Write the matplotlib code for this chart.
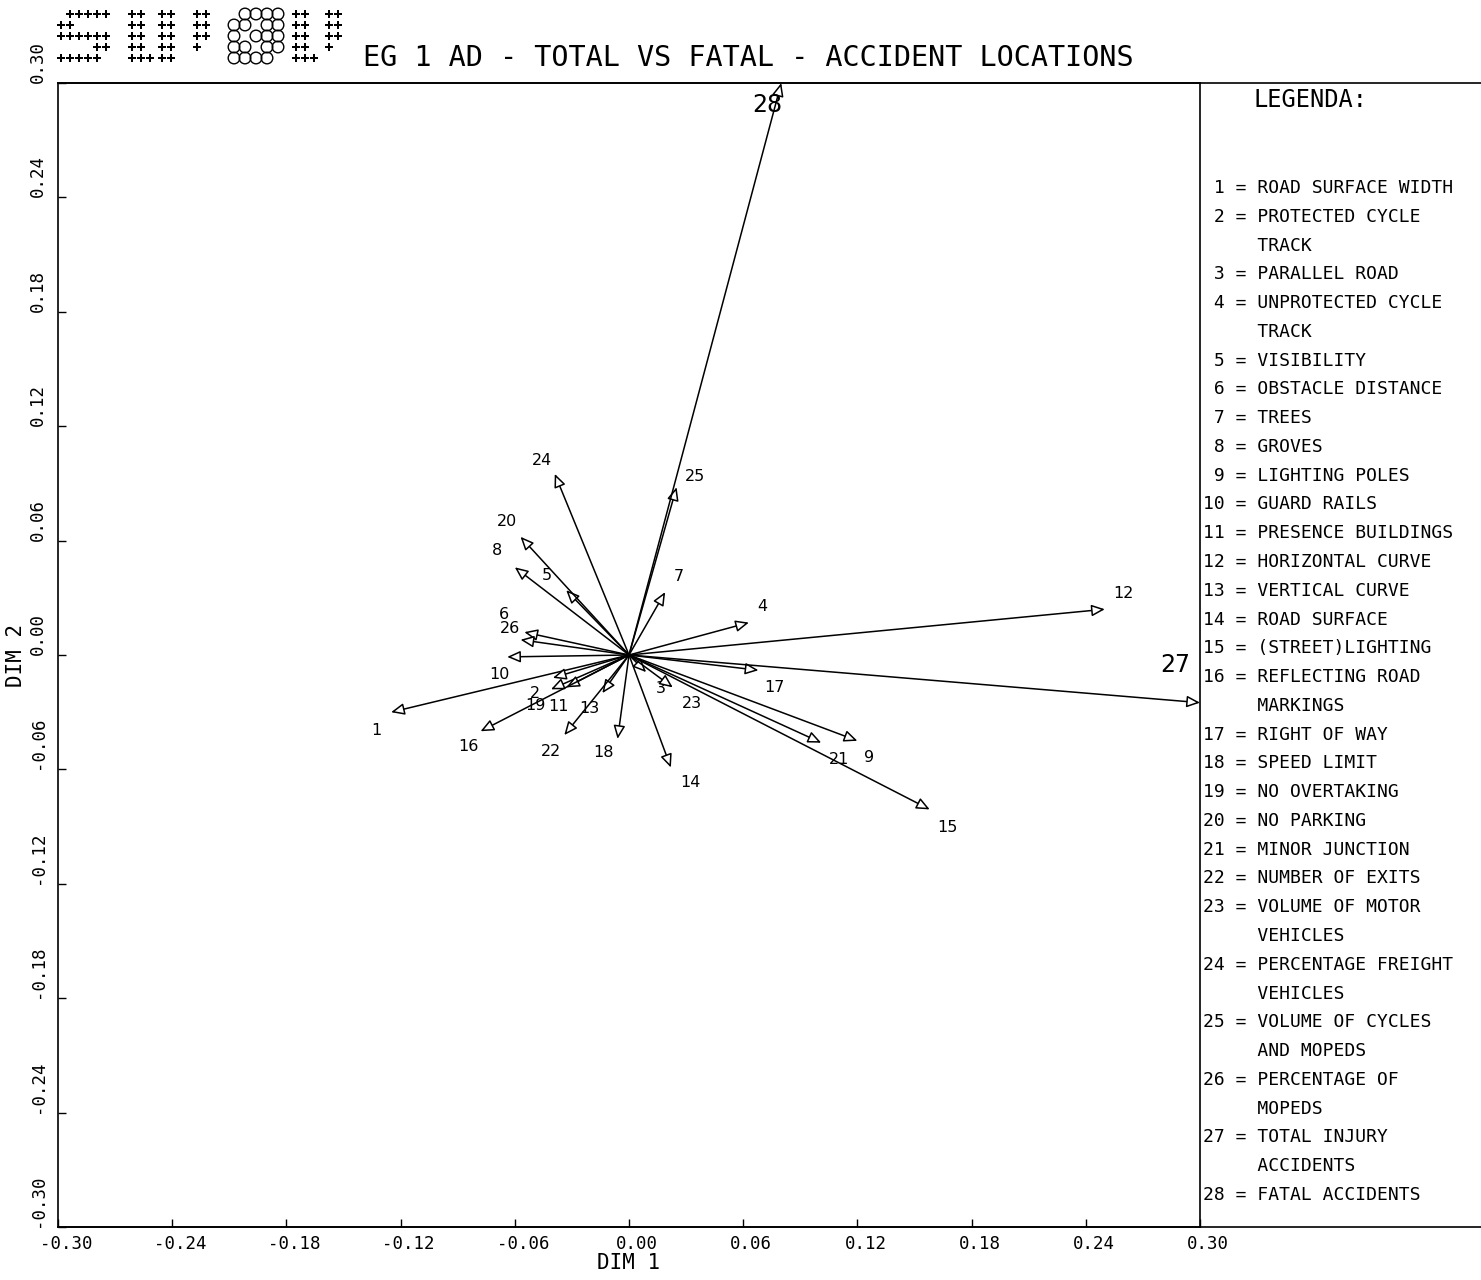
import numpy as np
import matplotlib.pyplot as plt
from matplotlib.lines import Line2D
import matplotlib.transforms as mtransforms

# variable vectors (DIM 1, DIM 2)
var_ids = list(range(1, 29))
dim1 = [-0.125, -0.041, 0.009, 0.063, -0.033, -0.055, 0.019, -0.060, 0.120, -0.064,
        -0.033, 0.250, -0.014, 0.022, 0.158, -0.078, 0.068, -0.006, -0.040, -0.057,
        0.101, -0.034, 0.023, -0.039, 0.025, -0.057, 0.300, 0.080]
dim2 = [-0.030, -0.018, -0.009, 0.017, 0.034, 0.012, 0.033, 0.046, -0.045, -0.001,
        -0.017, 0.024, -0.020, -0.059, -0.081, -0.040, -0.008, -0.044, -0.012, 0.062,
        -0.046, -0.042, -0.017, 0.095, 0.088, 0.008, -0.025, 0.300]

legend_names = ["ROAD SURFACE WIDTH", "PROTECTED CYCLE\nTRACK", "PARALLEL ROAD",
                "UNPROTECTED CYCLE\nTRACK", "VISIBILITY", "OBSTACLE DISTANCE", "TREES",
                "GROVES", "LIGHTING POLES", "GUARD RAILS", "PRESENCE BUILDINGS",
                "HORIZONTAL CURVE", "VERTICAL CURVE", "ROAD SURFACE", "(STREET)LIGHTING",
                "REFLECTING ROAD\nMARKINGS", "RIGHT OF WAY", "SPEED LIMIT", "NO OVERTAKING",
                "NO PARKING", "MINOR JUNCTION", "NUMBER OF EXITS", "VOLUME OF MOTOR\nVEHICLES",
                "PERCENTAGE FREIGHT\nVEHICLES", "VOLUME OF CYCLES\nAND MOPEDS",
                "PERCENTAGE OF\nMOPEDS", "TOTAL INJURY\nACCIDENTS", "FATAL ACCIDENTS"]

tick_vals = [-0.30, -0.24, -0.18, -0.12, -0.06, 0.00, 0.06, 0.12, 0.18, 0.24, 0.30]

# label placement (pixel offsets from arrow tip, x right / y down)
label_off = [(-15, 18), (-16, 4), (15, 16), (13, -16), (-19, -15), (-20, -18), (14, -16),
             (-18, -17), (12, 17), (-8, 18), (-8, 19), (19, -16), (-13, 15), (20, 15),
             (18, 18), (-12, 15), (16, 17), (-14, 14), (-17, 28), (-14, -15), (18, 17),
             (-13, 16), (19, 16), (-13, -13), (18, -11), (-11, -11), (-25, -38), (-14, 22)]

W, H = 1481, 1280
mono = "DejaVu Sans Mono"

fig = plt.figure(figsize=(W / 100, H / 100), dpi=100)
ax = fig.add_axes([58 / W, 1 - 1227 / H, 1142 / W, 1144 / H])
ax.set_xlim(-0.3, 0.3)
ax.set_ylim(-0.3, 0.3)

for i, (x, y) in enumerate(zip(dim1, dim2)):
    ax.annotate("", xy=(x, y), xytext=(0, 0),
                arrowprops=dict(arrowstyle="-|>,head_length=0.8,head_width=0.35",
                                fc="white", ec="black", lw=1.1, shrinkA=0, shrinkB=0))
    dx, dy = label_off[i]
    big = var_ids[i] >= 27
    ax.annotate(str(var_ids[i]), xy=(x, y), xytext=(dx, -dy), textcoords="offset pixels",
                ha="center", va="center", fontsize=17 if big else 11.5)

ax.set_xticks(tick_vals)
ax.set_xticklabels([f"{v:.2f}" for v in tick_vals], fontfamily=mono, fontsize=12.5)
ax.set_yticks(tick_vals)
ax.set_yticklabels([f"{v:.2f}" for v in tick_vals], fontfamily=mono, fontsize=12.5,
                   rotation=90, va="bottom")
ax.tick_params(direction="in", length=6, width=1)
ax.tick_params(axis="x", pad=6)
ax.tick_params(axis="y", pad=8)
shift = mtransforms.ScaledTranslation(8 / 100, 0, fig.dpi_scale_trans)
for lbl in ax.get_xticklabels():
    lbl.set_transform(lbl.get_transform() + shift)

ax.set_xlabel("DIM 1", fontfamily=mono, fontsize=15, labelpad=0)
ax.set_ylabel("DIM 2", fontfamily=mono, fontsize=15, labelpad=2)
for s in ax.spines.values():
    s.set_linewidth(1.2)

# frame continues past the plot to the legend panel
for yy in (83, 1227):
    fig.add_artist(Line2D([58 / W, 1.0], [1 - yy / H] * 2, color="black", lw=1.2))

fig.text(748 / W, 1 - 58 / H, "EG 1 AD - TOTAL VS FATAL - ACCIDENT LOCATIONS",
         ha="center", va="center", fontfamily=mono, fontsize=20.5)

# legend panel
fig.text(1310 / W, 1 - 100 / H, "LEGENDA:", ha="center", va="center",
         fontfamily=mono, fontsize=17)
line_h = 28.77
row = 0
for n, name in zip(var_ids, legend_names):
    parts = name.split("\n")
    for k, part in enumerate(parts):
        txt = f"{n:>2} = {part}" if k == 0 else "     " + part
        fig.text(1203 / W, 1 - (188 + row * line_h) / H, txt, ha="left", va="center",
                 fontfamily=mono, fontsize=13)
        row += 1

# dot-matrix stamp at top left
stamp = [
    (57, 9, ".#####", "##....", "######", "....##", "#####."),
    (128, 9, "##.", "##.", "##.", "##.", "###"),
    (158, 9, "##", "##", "##", "##", "##"),
    (193, 9, "##", "##", "##", "#.", ".."),
    (230, 11, ".OOOO", "OO.OO", "O.OOO", "OO.OO", "OOOO."),
    (292, 9, "##.", "##.", "##.", "##.", "###"),
    (325, 9, "##", "##", "##", "#.", ".."),
]
over = fig.add_axes([0, 0, 1, 1], facecolor="none")
over.set_xlim(0, W)
over.set_ylim(H, 0)
over.axis("off")
for x0, cw, *rows in stamp:
    for r, pattern in enumerate(rows):
        for c, ch in enumerate(pattern):
            px, py = x0 + c * cw + 4, 14 + r * 11
            if ch == "#":
                over.scatter(px, py, marker="P", s=28, color="black", linewidths=0)
            elif ch == "O":
                over.scatter(px, py, marker="o", s=70, facecolors="none",
                             edgecolors="black", linewidths=1)

fig.savefig("out.png", dpi=100)
